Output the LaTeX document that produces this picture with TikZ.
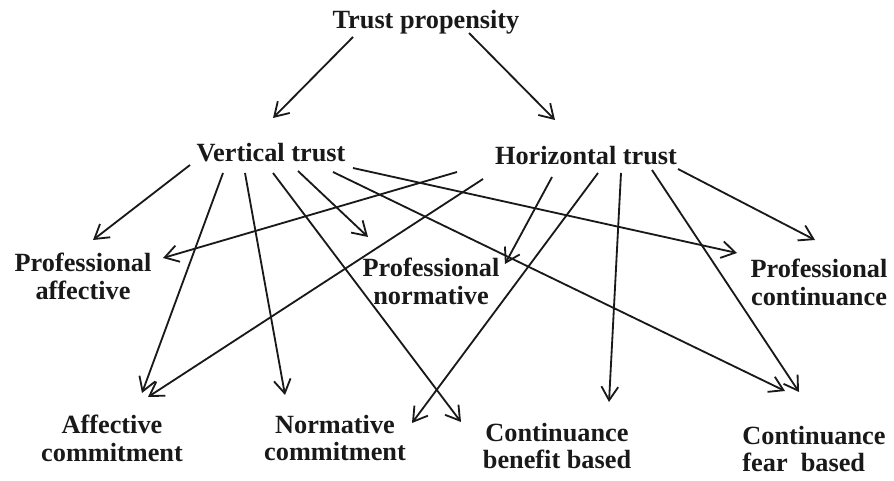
\documentclass[tikz,border=0pt]{standalone}
\usepackage{fontspec}
\setmainfont{Liberation Serif}
\usepackage{tikz}
\usetikzlibrary{arrows.meta}
\usepackage{xcolor}
\colorlet{InkBlack}{black!90}
\tikzstyle{trustLabel}=[font=\bfseries\fontsize{18.7}{19.9}\selectfont, text=InkBlack, align=center, inner sep=0pt]
\tikzstyle{trustArrow}=[-{Straight Barb[length=0.34cm,width=0.42cm]}, line width=1.3pt, draw=InkBlack]

\begin{document}
\begin{tikzpicture}
    \useasboundingbox (0,0) rectangle (22.35,12);

    % Top level
    \node[trustLabel] (prop) at (10.65, 11.45) {Trust propensity};

    % Trust types
    \node[trustLabel] (vert) at (6.775, 8.175) {Vertical trust};
    \node[trustLabel] (horiz) at (14.65, 8.1) {Horizontal trust};
    \draw[trustArrow] ([shift={(-1.825,-0.375)}]prop.center) -- ([shift={(0.05,0.875)}]vert.center);
    \draw[trustArrow] ([shift={(1.075,-0.275)}]prop.center) -- ([shift={(-0.775,0.9)}]horiz.center);

    % Professional commitment
    \node[trustLabel] (profAff) at (2.075, 5.1) {Professional\\affective};
    \node[trustLabel] (profNorm) at (10.775, 4.975) {Professional\\normative};
    \node[trustLabel] (profCont) at (20.475, 4.95) {Professional\\continuance};

    % Organisational commitment
    \node[trustLabel] (affCom) at (2.8, 1.05) {Affective\\commitment};
    \node[trustLabel] (normCom) at (8.375, 1.05) {Normative\\commitment};
    \node[trustLabel] (contBen) at (13.925, 0.85) {Continuance\\benefit based};
    \node[trustLabel, align=left] (contFear) at (20.35, 0.775) {Continuance\\fear\ \ based};

    % Arrows from vertical trust
    \draw[trustArrow] ([shift={(-2.025,-0.3)}]vert.center) -- ([shift={(0.25,0.9)}]profAff.center);
    \draw[trustArrow] ([shift={(-1.2,-0.5)}]vert.center) -- ([shift={(0.75,1.125)}]affCom.center);
    \draw[trustArrow] ([shift={(-0.65,-0.5)}]vert.center) -- ([shift={(-1.25,1.075)}]normCom.center);
    \draw[trustArrow] ([shift={(0.05,-0.5)}]vert.center) -- ([shift={(-2.4,0.6)}]contBen.center);
    \draw[trustArrow] ([shift={(0.675,-0.45)}]vert.center) -- ([shift={(-1.575,1.1)}]profNorm.center);
    \draw[trustArrow] ([shift={(1.55,-0.475)}]vert.center) -- ([shift={(-0.725,1.45)}]contFear.center);
    \draw[trustArrow] ([shift={(2.05,-0.375)}]vert.center) -- ([shift={(-2.05,0.725)}]profCont.center);

    % Arrows from horizontal trust
    \draw[trustArrow] ([shift={(-3.225,-0.4)}]horiz.center) -- ([shift={(2.0,0.45)}]profAff.center);
    \draw[trustArrow] ([shift={(-2.575,-0.575)}]horiz.center) -- ([shift={(0.9,1.025)}]affCom.center);
    \draw[trustArrow] ([shift={(-0.85,-0.525)}]horiz.center) -- ([shift={(1.85,0.425)}]profNorm.center);
    \draw[trustArrow] ([shift={(0.3,-0.425)}]horiz.center) -- ([shift={(1.925,0.375)}]normCom.center);
    \draw[trustArrow] ([shift={(0.875,-0.425)}]horiz.center) -- ([shift={(1.3,1.1)}]contBen.center);
    \draw[trustArrow] ([shift={(1.65,-0.35)}]horiz.center) -- ([shift={(-0.375,1.425)}]contFear.center);
    \draw[trustArrow] ([shift={(2.3,-0.325)}]horiz.center) -- ([shift={(-0.1,1.05)}]profCont.center);

\end{tikzpicture}
\end{document}
